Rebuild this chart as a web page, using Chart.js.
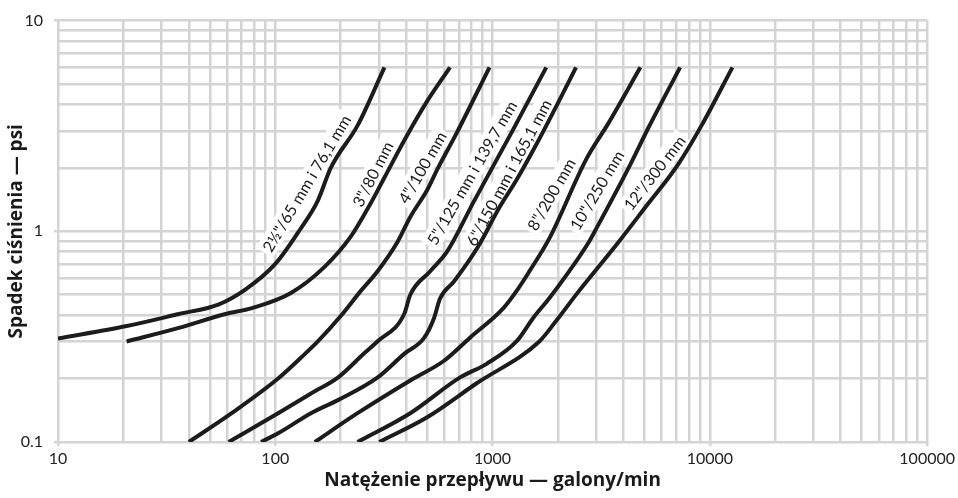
<!DOCTYPE html>
<html>
<head>
<meta charset="utf-8">
<script src="https://cdn.jsdelivr.net/npm/chart.js@4.4.1/dist/chart.umd.min.js"></script>
<style>
  html, body { margin: 0; padding: 0; background: #fff; }
  #wrap { width: 958px; height: 498px; }
</style>
</head>
<body>
<div id="wrap"><canvas id="chart" width="958" height="498"></canvas></div>
<script>
'use strict';

// pipe sizes, written along each curve
const pipeNames = [
  '2½"/65 mm i 76,1 mm',
  '3"/80 mm',
  '4"/100 mm',
  '5"/125 mm i 139,7 mm',
  '6"/150 mm i 165,1 mm',
  '8"/200 mm',
  '10"/250 mm',
  '12"/300 mm'
];

// flow (gal/min) vs pressure drop (psi)
const flow65 = [10, 20.7, 36, 55, 73, 100, 130, 157, 180, 240, 318];
const drop65 = [0.31, 0.355, 0.405, 0.45, 0.53, 0.70, 1.02, 1.4, 2.0, 3.2, 6];

const flow80 = [20.7, 36, 59, 78, 118, 169, 222, 274, 318, 392, 500, 637];
const drop80 = [0.30, 0.348, 0.405, 0.432, 0.51, 0.68, 0.94, 1.35, 1.8, 2.7, 4.15, 6];

const flow100 = [40, 63, 103, 137, 157, 200, 247, 295, 365, 418, 500, 561, 685, 968];
const drop100 = [0.1, 0.137, 0.2, 0.262, 0.30, 0.396, 0.52, 0.645, 0.89, 1.17, 1.57, 2.0, 2.94, 6];

const flow125 = [61, 103, 146, 194, 258, 295, 392, 418, 515, 617, 818, 1222, 1766];
const drop125 = [0.1, 0.137, 0.17, 0.202, 0.265, 0.30, 0.405, 0.50, 0.645, 0.80, 1.38, 2.94, 6];

const flow150 = [86, 103, 146, 194, 295, 392, 484, 538, 573, 664, 860, 1076, 1288, 1589, 2023, 2421];
const drop150 = [0.1, 0.11, 0.137, 0.158, 0.202, 0.262, 0.312, 0.388, 0.48, 0.578, 0.85, 1.30, 1.75, 2.58, 4.16, 6];

const flow200 = [152, 239, 418, 598, 785, 1122, 1288, 1476, 1820, 2700, 3420, 4790];
const drop200 = [0.1, 0.137, 0.196, 0.243, 0.312, 0.432, 0.52, 0.645, 0.92, 2.2, 3.27, 6];

const flow250 = [239, 418, 706, 939, 1288, 1538, 1820, 2250, 2774, 2985, 4227, 5214, 7295];
const drop250 = [0.1, 0.137, 0.202, 0.235, 0.30, 0.388, 0.48, 0.645, 0.89, 1.02, 2.0, 3.1, 6];

const flow300 = [301, 500, 845, 1641, 1959, 2495, 3802, 5047, 7145, 9190, 12700];
const drop300 = [0.1, 0.131, 0.19, 0.30, 0.375, 0.52, 0.89, 1.30, 2.08, 3.2, 6];

// axis ticks
const xTicks = [10, 100, 1000, 10000, 100000];
const xTickText = ['10', '100', '1000', '10000', '100000'];
const yTicks = [0.1, 1, 10];
const yTickText = ['0.1', '1', '10'];

const allFlows = [flow65, flow80, flow100, flow125, flow150, flow200, flow250, flow300];
const allDrops = [drop65, drop80, drop100, drop125, drop150, drop200, drop250, drop300];

let canvasElem = document.getElementById('chart');

// 1..9 lines inside every decade
function logGrid(majors) {
  let out = [];
  for (let i = 0; i < majors.length - 1; i++) {
    for (let k = 1; k < 10; k++) {
      out.push({ value: majors[i] * k, major: k === 1 });
    }
  }
  out.push({ value: majors[majors.length - 1], major: true });
  return out;
}

function tickText(value, majors, texts) {
  for (let i = 0; i < majors.length; i++) {
    if (Math.abs(value - majors[i]) < majors[i] * 1e-6) return texts[i];
  }
  return '';
}

// names drawn on the curves, white box behind the text
const curveLabels = {
  id: 'curveLabels',
  beforeDatasetsDraw(chart, args, opts) {
    const { ctx, scales: { x, y } } = chart;
    ctx.save();
    ctx.font = opts.font;
    ctx.textAlign = 'center';
    ctx.textBaseline = 'middle';
    opts.items.forEach((it, i) => {
      const px = x.getPixelForValue(it.flow);
      const py = y.getPixelForValue(it.drop);
      ctx.save();
      ctx.translate(px, py);
      ctx.rotate(it.angle * Math.PI / 180);
      const w = ctx.measureText(pipeNames[i]).width + 6;
      ctx.fillStyle = '#fff';
      ctx.fillRect(-w / 2, -10, w, 20);
      ctx.fillStyle = '#1a1a1a';
      ctx.fillText(pipeNames[i], 0, 1);
      ctx.restore();
    });
    ctx.restore();
  }
};

let datasets = [];
for (let i = 0; i < pipeNames.length; i++) {
  let pts = [];
  for (let j = 0; j < allFlows[i].length; j++) {
    pts.push({ x: allFlows[i][j], y: allDrops[i][j] });
  }
  datasets.push({
    label: pipeNames[i],
    data: pts,
    borderColor: '#1c1c1c',
    borderWidth: 4,
    pointRadius: 0,
    cubicInterpolationMode: 'monotone',
    borderCapStyle: 'butt',
    fill: false
  });
}

const gridColor = '#d4d4d4';
const tickFont = { family: 'Lato', size: 16 };
const titleFont = { family: 'Open Sans', size: 19, weight: 'bold' };

let config = {
  type: 'line',
  data: { datasets: datasets },
  options: {
    responsive: false,
    animation: false,
    layout: { padding: { top: 17, right: 25, bottom: 0, left: 0 } },
    plugins: {
      legend: { display: false },
      tooltip: { enabled: false },
      curveLabels: {
        font: '16px Lato',
        items: [
          { flow: 139, drop: 1.69, angle: -59 },
          { flow: 280, drop: 1.87, angle: -63 },
          { flow: 474, drop: 2.01, angle: -60 },
          { flow: 801, drop: 1.9, angle: -60 },
          { flow: 1183, drop: 1.9, angle: -62 },
          { flow: 1858, drop: 1.5, angle: -60 },
          { flow: 3013, drop: 1.57, angle: -59 },
          { flow: 5546, drop: 1.9, angle: -52 }
        ]
      }
    },
    scales: {
      x: {
        type: 'logarithmic',
        min: 10,
        max: 100000,
        afterBuildTicks: s => { s.ticks = logGrid(xTicks); },
        afterFit: s => { s.height = 56; },
        border: { display: false },
        grid: {
          color: gridColor,
          lineWidth: 2.5,
          tickLength: 4,
          tickColor: c => (c.tick && c.tick.major) ? gridColor : 'rgba(0,0,0,0)'
        },
        ticks: {
          autoSkip: false,
          maxRotation: 0,
          padding: 3,
          color: '#222',
          font: tickFont,
          callback: v => tickText(v, xTicks, xTickText)
        },
        title: {
          display: true,
          text: 'Natężenie przepływu — galony/min',
          color: '#1a1a1a',
          font: titleFont,
          padding: { top: 0, bottom: 6 }
        }
      },
      y: {
        type: 'logarithmic',
        min: 0.1,
        max: 10,
        afterBuildTicks: s => { s.ticks = logGrid(yTicks); },
        afterFit: s => { s.width = 58; },
        border: { display: false },
        grid: {
          color: gridColor,
          lineWidth: 2.5,
          tickLength: 4,
          tickColor: c => (c.tick && c.tick.major) ? gridColor : 'rgba(0,0,0,0)'
        },
        ticks: {
          autoSkip: false,
          padding: 11,
          color: '#222',
          font: tickFont,
          callback: v => tickText(v, yTicks, yTickText)
        },
        title: {
          display: true,
          text: 'Spadek ciśnienia — psi',
          color: '#1a1a1a',
          font: titleFont,
          padding: { top: 5, bottom: 0 }
        }
      }
    }
  },
  plugins: [curveLabels]
};

new Chart(canvasElem, config);
</script>
</body>
</html>
